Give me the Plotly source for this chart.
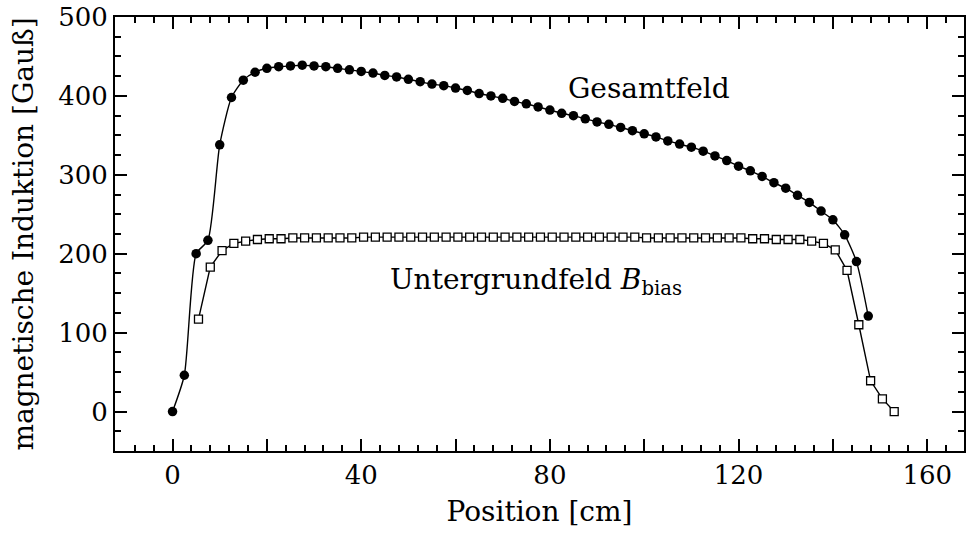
import plotly.graph_objects as go

# Total field (filled circles), positions every 2.5 cm
pos_total = [i * 2.5 for i in range(60)]
b_total = [0, 46, 200, 217, 338, 398, 420, 430, 435, 437,
           438, 439, 438, 437, 435, 433, 431, 429, 426, 424,
           421, 418, 415, 413, 410, 407, 403, 400, 397, 393,
           390, 386, 382, 378, 375, 371, 367, 364, 360, 356,
           352, 348, 343, 339, 335, 330, 324, 318, 311, 305,
           298, 290, 283, 274, 265, 254, 243, 224, 190, 121]

# Bias field (open squares)
pos_bias = [5.5 + i * 2.5 for i in range(60)]
b_bias = [117, 183, 204, 213, 216, 218, 219, 219, 220, 220,
          220, 220, 220, 220, 221, 221, 221, 221, 221, 221,
          221, 221, 221, 221, 221, 221, 221, 221, 221, 221,
          221, 221, 221, 221, 221, 221, 221, 221, 220, 220,
          220, 220, 220, 220, 220, 220, 220, 219, 219, 218,
          218, 218, 216, 213, 205, 179, 110, 39, 16, 0]

x_labels = [0, 40, 80, 120, 160]
y_labels = [0, 100, 200, 300, 400, 500]
x_range = [-12.2, 167.8]
y_range = [-50, 500]

FONT = "DejaVu Serif"

fig = go.Figure()
fig.add_trace(go.Scatter(
    x=pos_bias, y=b_bias, mode="lines+markers",
    line=dict(color="black", width=1.4),
    marker=dict(symbol="square", size=8, color="white",
                line=dict(color="black", width=1.3)),
    showlegend=False))
fig.add_trace(go.Scatter(
    x=pos_total, y=b_total, mode="lines+markers",
    line=dict(color="black", width=1.4, shape="spline", smoothing=0.6),
    marker=dict(symbol="circle", size=9.5, color="black"),
    showlegend=False))

axis_common = dict(
    showline=True, linecolor="black", linewidth=2, mirror="ticks",
    ticks="inside", ticklen=12, tickwidth=2, tickcolor="black",
    showgrid=False, zeroline=False,
    tickfont=dict(family=FONT, size=26, color="black"),
)

fig.update_layout(
    width=968, height=534,
    margin=dict(l=115, r=2, t=16, b=83),
    paper_bgcolor="white", plot_bgcolor="white",
    font=dict(family=FONT, color="black"),
    xaxis=dict(
        range=x_range, tickmode="array", tickvals=x_labels,
        minor=dict(ticks="inside", tick0=0, dtick=4, ticklen=6,
                   tickwidth=2, tickcolor="black"),
        title=dict(text="Position [cm]", standoff=12,
                   font=dict(family=FONT, size=28, color="black")),
        **axis_common),
    # unlabeled long ticks every 20 cm
    xaxis2=dict(
        range=x_range, overlaying="x", anchor="y", side="bottom",
        tick0=0, dtick=20, ticks="inside", ticklen=12, tickwidth=2,
        tickcolor="black", showticklabels=False, showline=True,
        linecolor="black", linewidth=2, mirror="ticks",
        showgrid=False, zeroline=False),
    yaxis=dict(
        range=y_range, tickmode="array", tickvals=y_labels,
        minor=dict(ticks="inside", tick0=0, dtick=25, ticklen=6,
                   tickwidth=2, tickcolor="black"),
        title=dict(text="magnetische Induktion [Gauß]", standoff=16,
                   font=dict(family=FONT, size=28, color="black")),
        **axis_common),
    annotations=[
        dict(x=101, y=409, text="Gesamtfeld", showarrow=False,
             xanchor="center", yanchor="middle",
             font=dict(family=FONT, size=28, color="black")),
        dict(x=77, y=165, text="Untergrundfeld <i>B</i><sub>bias</sub>",
             showarrow=False, xanchor="center", yanchor="middle",
             font=dict(family=FONT, size=28, color="black")),
    ],
)

# invisible trace so the secondary x axis is drawn
fig.add_trace(go.Scatter(x=[x_range[0]], y=[y_range[0]], xaxis="x2",
                         mode="markers", marker=dict(opacity=0),
                         showlegend=False, hoverinfo="skip"))

fig.write_html("out.html")
